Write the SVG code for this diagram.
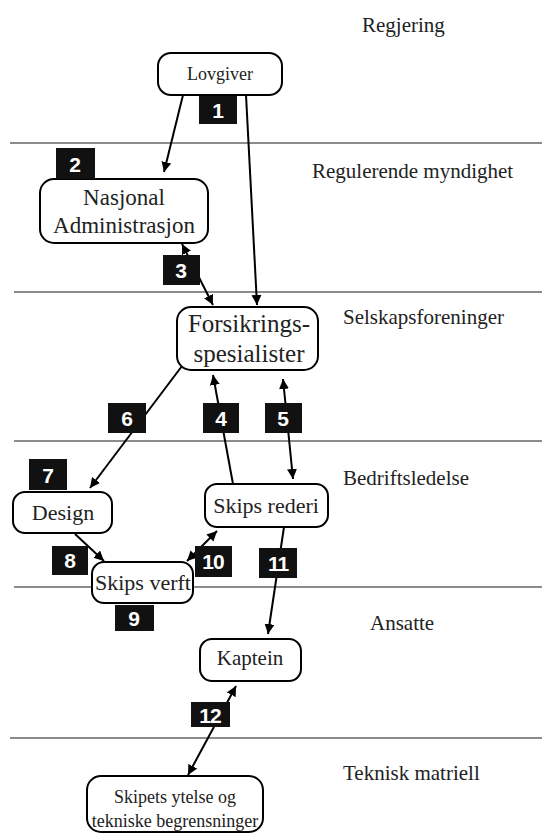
<svg xmlns="http://www.w3.org/2000/svg" width="542" height="836" viewBox="0 0 542 836">
<style>
.sep{stroke:#8c8c8c;stroke-width:2}
.lvl{font-family:"Liberation Serif","Times New Roman",serif;font-size:21px;fill:#222}
.box{fill:#fff;stroke:#000;stroke-width:2}
.nt{font-family:"Liberation Serif","Times New Roman",serif;fill:#222;text-anchor:middle}
.nb{fill:#111}
.nn{font-family:"Liberation Sans",Arial,sans-serif;font-weight:bold;font-size:21px;fill:#fff;text-anchor:middle}
.c line{stroke:#000;stroke-width:2;fill:none}
</style>
<defs>
<marker id="ah" markerUnits="userSpaceOnUse" markerWidth="10" markerHeight="10" refX="10" refY="5" orient="auto-start-reverse" viewBox="0 0 10 10">
<path d="M0,0 L10,5 L0,10 z" fill="#000"/>
</marker>
</defs>
<rect width="542" height="836" fill="#fff"/>
<g id="separators">
<line class="sep" x1="10" y1="143" x2="542" y2="143"/>
<line class="sep" x1="14" y1="292" x2="542" y2="292"/>
<line class="sep" x1="14" y1="441" x2="542" y2="441"/>
<line class="sep" x1="14" y1="587" x2="542" y2="587"/>
<line class="sep" x1="10" y1="738" x2="542" y2="738"/>
</g>
<g id="levels">
<text class="lvl" x="362" y="32">Regjering</text>
<text class="lvl" x="312" y="178">Regulerende myndighet</text>
<text class="lvl" x="343" y="324">Selskapsforeninger</text>
<text class="lvl" x="343" y="485">Bedriftsledelse</text>
<text class="lvl" x="370" y="630">Ansatte</text>
<text class="lvl" x="343" y="780">Teknisk matriell</text>
</g>
<g id="connectors" class="c">
<line x1="183" y1="95" x2="164" y2="172" marker-end="url(#ah)"/>
<line x1="246" y1="95" x2="257" y2="305" marker-end="url(#ah)"/>
<line x1="182" y1="244" x2="213" y2="305" marker-start="url(#ah)" marker-end="url(#ah)"/>
<line x1="182" y1="366" x2="90" y2="488" marker-end="url(#ah)"/>
<line x1="233" y1="484" x2="213" y2="375" marker-end="url(#ah)"/>
<line x1="283" y1="379" x2="293" y2="479" marker-start="url(#ah)" marker-end="url(#ah)"/>
<line x1="75" y1="534" x2="104" y2="561" marker-end="url(#ah)"/>
<line x1="187" y1="561" x2="217" y2="531" marker-start="url(#ah)" marker-end="url(#ah)"/>
<line x1="284" y1="527" x2="268" y2="634" marker-end="url(#ah)"/>
<line x1="236" y1="686" x2="188" y2="775" marker-start="url(#ah)" marker-end="url(#ah)"/>
</g>
<g id="lovgiver"><rect class="box" x="158" y="53" width="124" height="42" rx="13"/><text class="nt" x="220" y="80" font-size="18">Lovgiver</text></g>
<g id="nasjonal"><rect class="box" x="40" y="179" width="168" height="64" rx="14"/><text class="nt" x="124" y="205" font-size="23">Nasjonal</text><text class="nt" x="124" y="233" font-size="23">Administrasjon</text></g>
<g id="forsikring"><rect class="box" x="177" y="307" width="141" height="63" rx="14"/><text class="nt" x="249" y="332" font-size="25">Forsikrings-</text><text class="nt" x="249" y="362" font-size="25">spesialister</text></g>
<g id="design"><rect class="box" x="13" y="492" width="99" height="41" rx="12"/><text class="nt" x="63" y="520" font-size="22">Design</text></g>
<g id="rederi"><rect class="box" x="205" y="484" width="123" height="43" rx="12"/><text class="nt" x="266" y="513" font-size="22">Skips rederi</text></g>
<g id="verft"><rect class="box" x="92" y="562" width="101" height="41" rx="12"/><text class="nt" x="143" y="590" font-size="22">Skips verft</text></g>
<g id="kaptein"><rect class="box" x="200" y="639" width="101" height="42" rx="12"/><text class="nt" x="250" y="665" font-size="21">Kaptein</text></g>
<g id="skipets"><rect class="box" x="87" y="776" width="176" height="56" rx="14"/><text class="nt" x="175" y="803" font-size="18">Skipets ytelse og</text><text class="nt" x="175" y="827" font-size="18">tekniske begrensninger</text></g>
<g id="n1"><rect class="nb" x="199" y="96" width="38" height="28"/><text class="nn" x="218" y="118">1</text></g>
<g id="n2"><rect class="nb" x="56" y="148" width="39" height="31"/><text class="nn" x="75" y="172">2</text></g>
<g id="n3"><rect class="nb" x="163" y="255" width="37" height="30"/><text class="nn" x="181" y="278">3</text></g>
<g id="n4"><rect class="nb" x="203" y="403" width="36" height="30"/><text class="nn" x="221" y="426">4</text></g>
<g id="n5"><rect class="nb" x="265" y="403" width="37" height="30"/><text class="nn" x="283" y="426">5</text></g>
<g id="n6"><rect class="nb" x="108" y="403" width="38" height="30"/><text class="nn" x="127" y="426">6</text></g>
<g id="n7"><rect class="nb" x="29" y="459" width="38" height="31"/><text class="nn" x="48" y="483">7</text></g>
<g id="n8"><rect class="nb" x="52" y="546" width="36" height="29"/><text class="nn" x="70" y="568">8</text></g>
<g id="n9"><rect class="nb" x="115" y="605" width="39" height="26"/><text class="nn" x="134" y="626">9</text></g>
<g id="n10"><rect class="nb" x="195" y="546" width="37" height="31"/><text class="nn" x="213" y="569" letter-spacing="-1">10</text></g>
<g id="n11"><rect class="nb" x="259" y="548" width="38" height="30"/><text class="nn" x="278" y="571" letter-spacing="-1">11</text></g>
<g id="n12"><rect class="nb" x="191" y="702" width="39" height="25"/><text class="nn" x="210" y="723" letter-spacing="-1">12</text></g>
</svg>
